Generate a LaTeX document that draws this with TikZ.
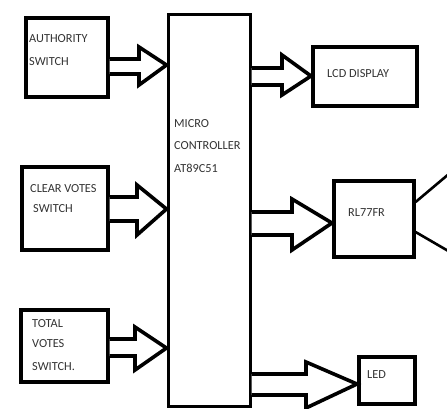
\documentclass[tikz,border=0pt]{standalone}
\usepackage{fontspec}
\setmainfont{Carlito}
\begin{document}
\begin{tikzpicture}[x=1pt,y=-1pt,
  blk/.style={draw=black,line width=3.6pt,fill=white,rectangle,inner sep=0pt,anchor=north west},
  mcu/.style={draw=black,line width=3pt,fill=white,rectangle,inner sep=0pt,anchor=north west},
  lbl/.style={anchor=base west,inner sep=0pt,text=black!80,font=\fontsize{12.3}{14}\selectfont},
  barrow/.style={draw=black,line width=3.6pt,fill=white,line join=miter,miter limit=20},
  spk/.style={draw=black,line width=2.6pt}]
\useasboundingbox (0,0) rectangle (447,408);
% boxes
\node[mcu,minimum width=82pt,minimum height=392pt] (mcu) at (166.5,13) {};
\node[blk,minimum width=82pt,minimum height=79pt] (auth) at (24,16) {};
\node[blk,minimum width=86pt,minimum height=83pt] (clr) at (20,165) {};
\node[blk,minimum width=87pt,minimum height=72pt] (tot) at (19,308) {};
\node[blk,minimum width=104pt,minimum height=59pt] (lcd) at (311,45) {};
\node[blk,minimum width=80pt,minimum height=76pt] (rl) at (332,179) {};
\node[blk,minimum width=56pt,minimum height=47pt] (led) at (357,355) {};
% block arrows
\draw[barrow] (auth.east |- 0,59) -- (139,59) -- (139,47) -- (mcu.west |- 0,65) -- (139,85) -- (139,74) -- (auth.east |- 0,74);
\draw[barrow] (clr.east |- 0,197) -- (137,197) -- (137,185) -- (mcu.west |- 0,209) -- (137,235) -- (137,221) -- (clr.east |- 0,221);
\draw[barrow] (tot.east |- 0,339) -- (135,339) -- (135,327) -- (mcu.west |- 0,348) -- (135,370) -- (135,356) -- (tot.east |- 0,356);
\draw[barrow] (mcu.east |- 0,68) -- (282,68) -- (282,55) -- (lcd.west |- 0,76) -- (282,95) -- (282,85) -- (mcu.east |- 0,85);
\draw[barrow] (mcu.east |- 0,212) -- (292,212) -- (292,199) -- (rl.west |- 0,223) -- (292,250) -- (292,235) -- (mcu.east |- 0,235);
\draw[barrow] (mcu.east |- 0,374) -- (306,374) -- (306,362) -- (led.west |- 0,384) -- (306,408) -- (306,395) -- (mcu.east |- 0,395);
% speaker lines
\coordinate (s1) at (450,173);
\coordinate (s2) at (450,252);
\draw[spk] (rl.east |- 0,202) -- (s1);
\draw[spk] (rl.east |- 0,232) -- (s2);
% labels
\node[lbl] (t1) at (29,42) {AUTHORITY};
\node[lbl] (t2) at (29,65) {SWITCH};
\node[lbl] (t3) at (174,127) {MICRO};
\node[lbl] (t4) at (174,149) {CONTROLLER};
\node[lbl] (t5) at (174,172) {AT89C51};
\node[lbl] (t6) at (30,192) {CLEAR VOTES};
\node[lbl] (t7) at (33,212) {SWITCH};
\node[lbl] (t8) at (32,327) {TOTAL};
\node[lbl] (t9) at (32,347) {VOTES};
\node[lbl] (t10) at (32,370) {SWITCH.};
\node[lbl] (t11) at (327,77) {LCD DISPLAY};
\node[lbl] (t12) at (348,216) {RL77FR};
\node[lbl] (t13) at (367,378) {LED};
\end{tikzpicture}
\end{document}
